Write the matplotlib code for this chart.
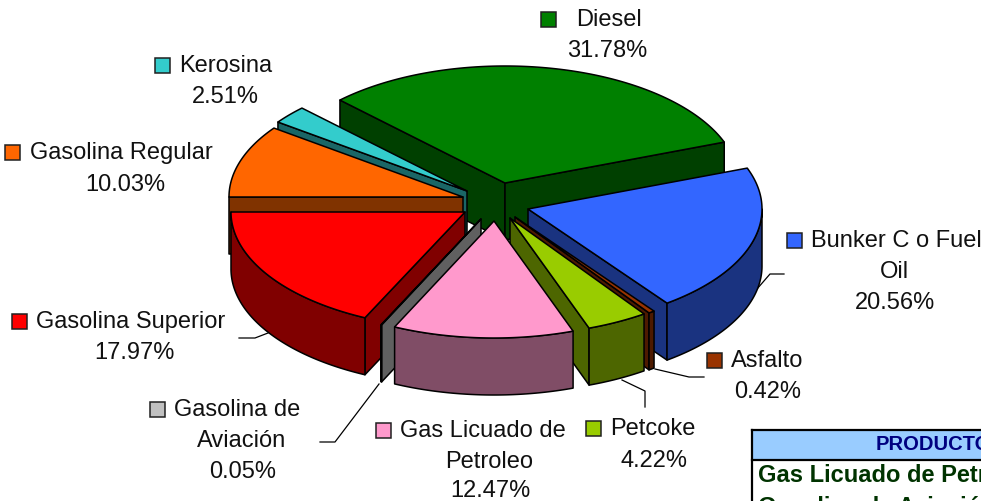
import numpy as np
import matplotlib
matplotlib.use("Agg")
import matplotlib.pyplot as plt
from matplotlib.patches import Polygon, Rectangle

plt.rcParams['font.family'] = ['Liberation Sans', 'DejaVu Sans']

# slices in clockwise order, beginning at the horizontal left edge
products = ["Gasolina Regular", "Kerosina", "Diesel", "Bunker C o Fuel Oil", "Asfalto",
            "Petcoke", "Gas Licuado de Petroleo", "Gasolina de Aviación", "Gasolina Superior"]
percents = [10.03, 2.51, 31.78, 20.56, 0.42, 4.22, 12.47, 0.05, 17.97]
top_colors = ["#FF6600", "#33CCCC", "#008000", "#3366FF", "#993300",
              "#99CC00", "#FF99CC", "#C0C0C0", "#FF0000"]
side_colors = ["#803300", "#1A6666", "#004000", "#1A3380", "#4D1A00",
               "#4D6600", "#804D66", "#606060", "#800000"]

# where each exploded slice has its tip, in pixels
tips = [(463, 198), (467, 192), (505, 184), (528, 210), (515, 218),
        (510, 219), (494, 222), (481, 220), (465, 213)]
draw_order = [2, 1, 0, 3, 4, 8, 7, 5, 6]

rx, ry, depth = 234, 117, 57
start_angle = 270

# label lines: key box x, y, first line x, then the other centred lines
labels = {
    "Diesel": (541, 20, 576, [("31.78%", 607, 51)]),
    "Kerosina": (155, 66, 179, [("2.51%", 225, 97)]),
    "Gasolina Regular": (5, 153, 30, [("10.03%", 125, 185)]),
    "Gasolina Superior": (12, 322, 36, [("17.97%", 134, 353)]),
    "Gasolina de Aviación": (150, 410, 174, [("Aviación", 242, 441), ("0.05%", 243, 472)]),
    "Gas Licuado de Petroleo": (376, 431, 400, [("Petroleo", 489, 462), ("12.47%", 490, 491)]),
    "Petcoke": (586, 429, 610, [("4.22%", 654, 461)]),
    "Asfalto": (707, 361, 731, [("0.42%", 768, 392)]),
    "Bunker C o Fuel Oil": (787, 241, 811, [("Oil", 894, 272), ("20.56%", 895, 303)]),
}
first_lines = {"Gasolina de Aviación": "Gasolina de", "Gas Licuado de Petroleo": "Gas Licuado de",
               "Bunker C o Fuel Oil": "Bunker C o Fuel"}

leaders = [
    [(757, 290), (770, 275), (784, 275)],
    [(655, 370), (689, 378), (704, 378)],
    [(622, 381), (645, 392), (645, 408)],
    [(268, 334), (255, 339), (239, 339)],
    [(379, 385), (335, 443), (320, 443)],
]


def rim(tip, a, b):
    t = np.radians(np.linspace(a, b, max(int(abs(b - a)) * 2, 2)))
    return np.column_stack([tip[0] + rx * np.sin(t), tip[1] - ry * np.cos(t)])


def face(ax, pts, color, z):
    ax.add_patch(Polygon(pts, closed=True, facecolor=color, edgecolor="black",
                         linewidth=1.1, joinstyle="round", zorder=z))


def drawSlice(ax, tip, a, b, top, side, z):
    down = np.array([0, depth])
    tip_pt = np.array(tip, dtype=float)
    if a >= 360:
        a, b = a - 360, b - 360
    # cut faces that turn towards the viewer
    if np.sin(np.radians(a)) < 0:
        p = rim(tip, a, a)[0]
        face(ax, [tip_pt, p, p + down, tip_pt + down], side, z)
    if np.sin(np.radians(b)) > 0:
        p = rim(tip, b, b)[0]
        face(ax, [tip_pt, p, p + down, tip_pt + down], side, z)
    # outer wall, only the front half shows
    lo, hi = max(a, 90), min(b, 270)
    if hi > lo:
        arc = rim(tip, lo, hi)
        face(ax, np.vstack([arc, arc[::-1] + down]), side, z)
    face(ax, np.vstack([[tip_pt], rim(tip, a, b)]), top, z)


fig = plt.figure(figsize=(9.81, 5.02), dpi=100)
ax = fig.add_axes([0, 0, 1, 1])
ax.set_xlim(0, 981)
ax.set_ylim(502, 0)
ax.axis("off")

sweeps = np.array(percents) / sum(percents) * 360
ends = start_angle + np.cumsum(sweeps)
starts = ends - sweeps

for z, i in enumerate(draw_order):
    drawSlice(ax, tips[i], starts[i], ends[i], top_colors[i], side_colors[i], z + 2)

for line in leaders:
    xs, ys = zip(*line)
    ax.plot(xs, ys, color="black", linewidth=0.9, zorder=1)

font = 17
for i, name in enumerate(products):
    kx, ky, tx, rest = labels[name]
    ax.add_patch(Rectangle((kx, ky - 7.5), 15, 15, facecolor=top_colors[i], edgecolor="#202020",
                           linewidth=1.1, zorder=20))
    ax.text(tx, ky + 0.5, first_lines.get(name, name), fontsize=font, color="#111111",
            ha="left", va="center", zorder=20)
    for s, x, y in rest:
        ax.text(x, y, s, fontsize=font, color="#111111", ha="center", va="center", zorder=20)

# the table that runs off the page
ax.add_patch(Rectangle((752, 431), 240, 30, facecolor="#99CCFF", edgecolor="none", zorder=1))
ax.plot([752, 981], [431, 431], color="black", linewidth=1.6)
ax.plot([752, 981], [461, 461], color="black", linewidth=1.6)
ax.plot([752, 752], [431, 502], color="black", linewidth=1.6)
ax.text(876, 445, "PRODUCTO", fontsize=14.5, fontweight="bold", color="#000080", ha="left", va="center")
ax.text(758, 476, "Gas Licuado de Petroleo", fontsize=17, fontweight="bold", color="#003300",
        ha="left", va="center")
ax.text(758, 507, "Gasolina de Aviación", fontsize=17, fontweight="bold", color="#003300",
        ha="left", va="center")

fig.savefig("out.png", dpi=100)
